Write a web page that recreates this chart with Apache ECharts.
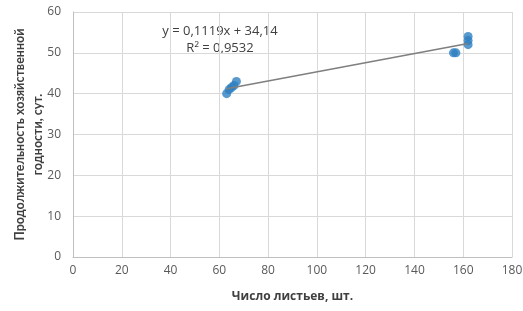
<!DOCTYPE html>
<html>
<head>
<meta charset="utf-8">
<script src="https://cdn.jsdelivr.net/npm/echarts@6/dist/echarts.min.js"></script>
<style>
html, body { margin: 0; padding: 0; background: #fff; }
#chart { width: 523px; height: 311px; }
</style>
</head>
<body>
<div id="chart"></div>
<script>
// число листьев, шт.
var leaves = [63, 64, 65, 66, 67, 156, 157, 162, 162, 162]
// продолжительность хозяйственной годности, сут.
var days = [40, 41, 41.5, 42, 43, 50, 50, 52, 53, 54]
var slope = 0.1119
var intercept = 34.14
var trendX = [63, 162]

var chart = echarts.init(document.getElementById('chart'))
var font = 'Open Sans'
chart.setOption({
	animation: false,
	grid: {
		left: 73,
		right: 11,
		top: 12,
		bottom: 54,
		containLabel: false,
		outerBoundsMode: 'none'
	},
	xAxis: {
		type: 'value',
		min: 0,
		max: 180,
		interval: 20,
		name: 'Число листьев, шт.',
		nameLocation: 'middle',
		nameGap: 34,
		nameMoveOverlap: false,
		nameTextStyle: { fontFamily: font, fontSize: 12, fontWeight: 'bold', color: '#404040' },
		axisLine: { lineStyle: { color: '#bfbfbf' } },
		axisTick: { show: false },
		axisLabel: { fontFamily: font, fontSize: 12, color: '#595959', margin: 8 },
		splitLine: { lineStyle: { color: '#d9d9d9' } }
	},
	yAxis: {
		type: 'value',
		min: 0,
		max: 60,
		interval: 10,
		name: 'Продолжительность хозяйственной\nгодности, сут.',
		nameLocation: 'middle',
		nameGap: 26,
		nameMoveOverlap: false,
		nameTextStyle: { fontFamily: 'Lato', fontSize: 12.5, fontWeight: 'bold', color: '#404040', lineHeight: 18 },
		axisLine: { show: true, lineStyle: { color: '#bfbfbf' } },
		axisTick: { show: false },
		axisLabel: { fontFamily: font, fontSize: 12, color: '#595959', margin: 12 },
		splitLine: { lineStyle: { color: '#d9d9d9' } }
	},
	series: [{
			type: 'scatter',
			symbolSize: 9,
			itemStyle: { color: '#2e7fc2' },
			data: leaves.map(function (x, i) { return [x, days[i]] }),
			z: 3
		},
		{
			type: 'line',
			symbol: 'none',
			lineStyle: { color: '#7f7f7f', width: 1.5 },
			data: trendX.map(function (x) { return [x, slope * x + intercept] }),
			z: 4
		}
	],
	graphic: [{
			type: 'text',
			x: 220,
			y: 31,
			style: { text: 'y = 0,1119x + 34,14', fontFamily: font, fontSize: 13, fill: '#404040', align: 'center', verticalAlign: 'middle' }
		},
		{
			type: 'text',
			x: 220,
			y: 48,
			style: { text: 'R² = 0,9532', fontFamily: font, fontSize: 13, fill: '#404040', align: 'center', verticalAlign: 'middle' }
		}
	]
})
</script>
</body>
</html>
